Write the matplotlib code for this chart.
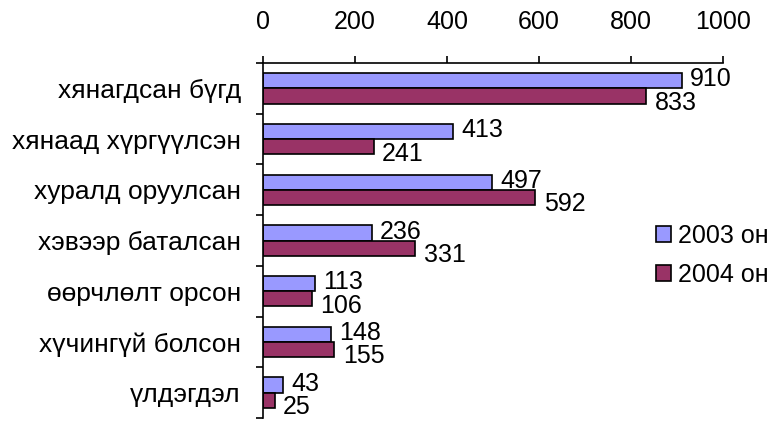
import numpy as np
import matplotlib
matplotlib.use("Agg")
import matplotlib.pyplot as plt

categories = ["хянагдсан бүгд", "хянаад хүргүүлсэн", "хуралд оруулсан",
              "хэвээр баталсан", "өөрчлөлт орсон", "хүчингүй болсон", "үлдэгдэл"]
vals_2003 = [910, 413, 497, 236, 113, 148, 43]
vals_2004 = [833, 241, 592, 331, 106, 155, 25]
series_names = ["2003 он", "2004 он"]
x_ticks = [0, 200, 400, 600, 800, 1000]

plt.rcParams['font.family'] = ['Liberation Sans', 'DejaVu Sans']
fs = 18

fig = plt.figure(figsize=(7.75, 4.25), dpi=100)
ax = fig.add_axes([263/775, 1-418/425, (723-263)/775, (418-63)/425])

y = np.arange(len(categories))
h = 0.3
b1 = ax.barh(y - h/2, vals_2003, height=h, color='#9999FF', edgecolor='black', linewidth=1.2, label=series_names[0])
b2 = ax.barh(y + h/2, vals_2004, height=h, color='#993366', edgecolor='black', linewidth=1.2, label=series_names[1])

# value labels: 2003 beside its bar, 2004 a bit lower so they stack
for yy, v in zip(y - h/2, vals_2003):
    ax.annotate(str(v), (v, yy), xytext=(6, 1), textcoords='offset points',
                va='center', ha='left', fontsize=fs, clip_on=False)
for yy, v in zip(y + h/2, vals_2004):
    ax.annotate(str(v), (v, yy), xytext=(6, -5), textcoords='offset points',
                va='center', ha='left', fontsize=fs, clip_on=False)

ax.set_xlim(0, 1000)
ax.set_ylim(len(categories) - 0.5, -0.5)
ax.xaxis.tick_top()
ax.set_xticks(x_ticks)
ax.tick_params(axis='x', direction='out', length=5, width=1.2, pad=16, labelsize=fs)
ax.set_yticks(y)
ax.set_yticklabels(categories, fontsize=19)
ax.set_yticks(np.arange(len(categories) + 1) - 0.5, minor=True)
ax.tick_params(axis='y', which='major', length=0, pad=16)
ax.tick_params(axis='y', which='minor', direction='out', length=5, width=1.2)
for s in ['right', 'bottom']:
    ax.spines[s].set_visible(False)
for s in ['top', 'left']:
    ax.spines[s].set_linewidth(1.2)

fig.legend(handles=[b1, b2], loc='center left', bbox_to_anchor=(656/775, 1-255.5/425),
           bbox_transform=fig.transFigure, frameon=False, fontsize=fs,
           handlelength=0.6, handleheight=0.6, handletextpad=0.3,
           labelspacing=0.6, borderpad=0, borderaxespad=0)

fig.savefig("out.png", dpi=100)
